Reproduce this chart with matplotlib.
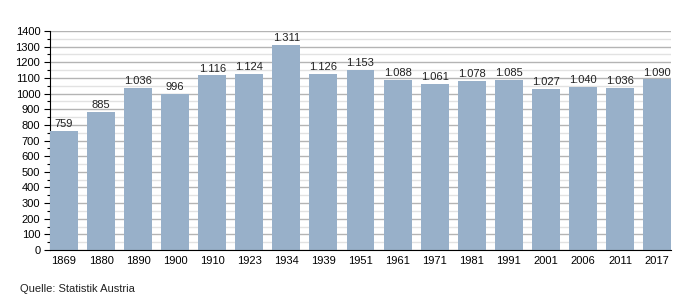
import matplotlib
matplotlib.use("Agg")
import matplotlib.pyplot as plt
from matplotlib.ticker import MultipleLocator

years = ["1869", "1880", "1890", "1900", "1910", "1923", "1934", "1939", "1951",
         "1961", "1971", "1981", "1991", "2001", "2006", "2011", "2017"]
population = [759, 885, 1036, 996, 1116, 1124, 1311, 1126, 1153,
              1088, 1061, 1078, 1085, 1027, 1040, 1036, 1090]

plt.rcParams['font.family'] = ['Liberation Sans', 'DejaVu Sans']

fig = plt.figure(figsize=(7, 3), dpi=100)
ax = fig.add_axes([50/700, 1-250/300, 621/700, 219/300])

w = 0.755
x = list(range(len(years)))
ax.bar(x, population, width=w, color="#98b0c9", zorder=3)
for xi, v in zip(x, population):
    s = f"{v:,}".replace(",", ".")
    ax.text(xi, v + 12, s, ha="center", va="bottom", fontsize=8, color="#222222", zorder=4)

ax.set_xlim(-w/2, len(years) - 1 + w/2)
ax.set_ylim(0, 1400)
ax.yaxis.set_major_locator(MultipleLocator(100))
ax.yaxis.set_minor_locator(MultipleLocator(50))
ax.grid(axis="y", which="major", color="#b4b4b4", linewidth=1, zorder=0)
ax.grid(axis="y", which="minor", color="#e2e2e2", linewidth=1, zorder=0)
ax.set_xticks(x)
ax.set_xticklabels(years)
ax.tick_params(axis="x", length=0, labelsize=8, pad=4)
ax.tick_params(axis="y", which="major", length=4, width=0.8, labelsize=8, pad=3)
ax.tick_params(axis="y", which="minor", length=2.5, width=0.8)
for sp in ["top", "right"]:
    ax.spines[sp].set_visible(False)
ax.spines["left"].set_color("black")
ax.spines["bottom"].set_color("black")
ax.spines["bottom"].set_zorder(5)

fig.text(20/700, 1-289/300, "Quelle: Statistik Austria", fontsize=8, color="#222222", va="center")

fig.savefig("out.png", dpi=100)
